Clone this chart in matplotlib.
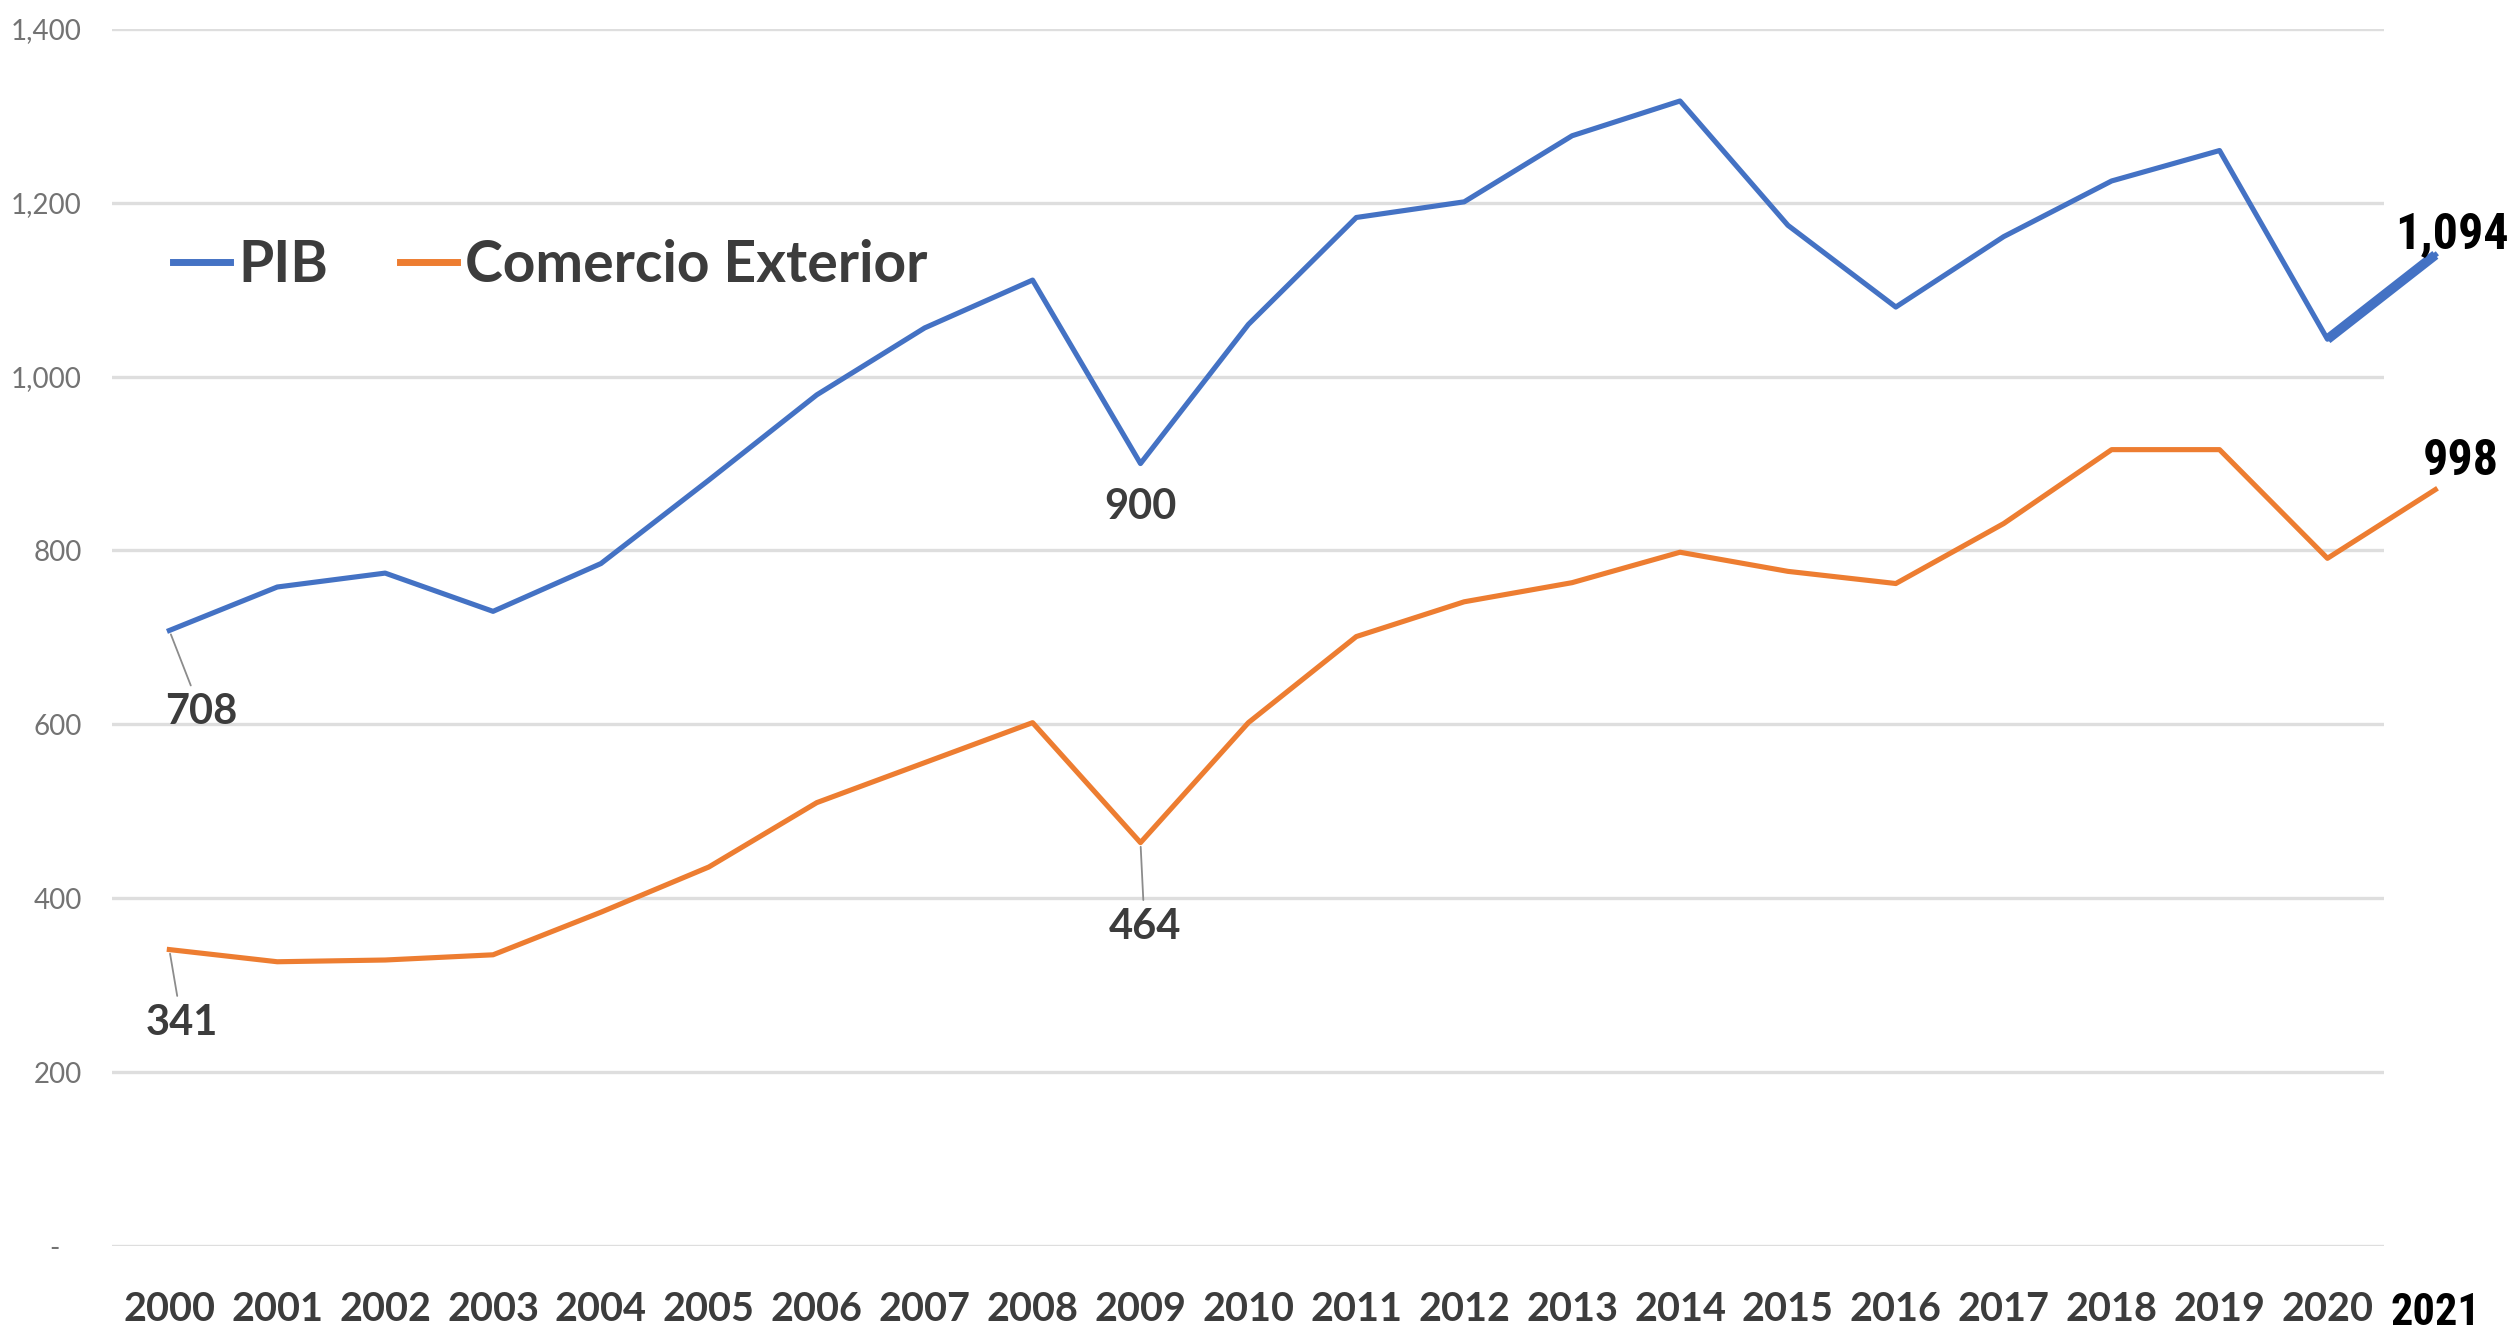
import matplotlib
matplotlib.use("Agg")
import matplotlib.pyplot as plt
from matplotlib import font_manager as fm
from matplotlib.lines import Line2D

# ---------------- data ----------------
years = ["2000", "2001", "2002", "2003", "2004", "2005", "2006", "2007", "2008", "2009", "2010",
         "2011", "2012", "2013", "2014", "2015", "2016", "2017", "2018", "2019", "2020", "2021"]
pib = [708, 758, 774, 730, 785, 881, 979, 1056, 1111, 900, 1060,
       1183, 1201, 1277, 1317, 1174, 1080, 1161, 1225, 1260, 1043, 1140]
comercio = [341, 327, 329, 335, 384, 436, 510, 556, 602, 464, 602,
            701, 741, 763, 798, 776, 762, 831, 916, 916, 791, 870]
yticks = [0, 200, 400, 600, 800, 1000, 1200, 1400]
ytick_labels = ["-   ", "200", "400", "600", "800", "1,000", "1,200", "1,400"]
series_names = ["PIB", "Comercio Exterior"]

pib_labels = {0: "708", 9: "900"}
com_labels = {0: "341", 9: "464"}
end_labels = ["1,094", "998"]

# ---------------- fonts ----------------
names = {f.name for f in fm.fontManager.ttflist}
def pick(cands):
    for c in cands:
        if c in names:
            return c
    return "DejaVu Sans"
main_font = pick(["Lato", "Open Sans", "Noto Sans", "DejaVu Sans"])
narrow_font = pick(["Liberation Sans Narrow", "Roboto Condensed", "Arial Narrow", "Liberation Sans"])

plt.rcParams["font.family"] = [main_font, "DejaVu Sans"]

BLUE = "#4472C4"
ORANGE = "#ED7D31"
DARK = "#3c3c3c"

fig = plt.figure(figsize=(25.09, 13.40), dpi=100)
fig.patch.set_facecolor("white")
ax = fig.add_axes([0.0447, 0.0701, 0.9053, 0.9084])
ax.set_facecolor("none")

x = list(range(len(years)))
n_main = len(years) - 1  # last category drawn outside the grid

ax.set_xlim(-0.53, n_main - 1 + 0.52)
ax.set_ylim(0, 1400)

ax.plot(x, pib, color=BLUE, lw=3.7, clip_on=False, zorder=3)
ax.plot(x[-2:], pib[-2:], color=BLUE, lw=7, clip_on=False, solid_capstyle="butt", zorder=3)
ax.plot(x, comercio, color=ORANGE, lw=3.7, clip_on=False, zorder=3)

# grid
ax.set_yticks(yticks)
ax.set_yticklabels(ytick_labels)
ax.yaxis.grid(True, color="#dedede", lw=2.4)
ax.set_axisbelow(True)
for s in ax.spines.values():
    s.set_visible(False)
ax.tick_params(axis="y", length=0, pad=22, labelsize=20, labelcolor="#737373")

ax.set_xticks(x[:n_main])
ax.set_xticklabels(years[:n_main])
ax.tick_params(axis="x", length=0, pad=32, labelsize=28.5, labelcolor=DARK)
for t in ax.get_xticklabels():
    t.set_fontweight("bold")

# last year label (different style)
ax.annotate(years[-1], xy=(x[-1], 0), xycoords=("data", "data"),
            xytext=(0, -48), textcoords="offset points", ha="center", va="center",
            fontsize=32, fontweight="bold", color="black", family=[narrow_font, "DejaVu Sans"],
            annotation_clip=False)

# data labels
lead = dict(arrowstyle="-", color="#8c8c8c", lw=1.3, shrinkA=4, shrinkB=3)
def lab(series, idx, text, off, arrow):
    ax.annotate(text, xy=(x[idx], series[idx]), xytext=off, textcoords="offset points",
                ha="center", va="center", fontsize=30, fontweight="bold", color=DARK,
                arrowprops=lead if arrow else None, annotation_clip=False, zorder=4)

lab(pib, 0, pib_labels[0], (23, -59), True)
lab(pib, 9, pib_labels[9], (0, -31), False)
lab(comercio, 0, com_labels[0], (9, -53), True)
lab(comercio, 9, com_labels[9], (3, -61), True)

ax.annotate(end_labels[0], xy=(x[-1], pib[-1]), xytext=(12, 14), textcoords="offset points",
            ha="center", va="center", fontsize=36, fontweight="bold", color="black",
            family=[narrow_font, "DejaVu Sans"], annotation_clip=False, zorder=4)
ax.annotate(end_labels[1], xy=(x[-1], comercio[-1]), xytext=(18, 20), textcoords="offset points",
            ha="center", va="center", fontsize=36, fontweight="bold", color="black",
            family=[narrow_font, "DejaVu Sans"], annotation_clip=False, zorder=4)

# legend
handles = [Line2D([], [], color=BLUE, lw=5), Line2D([], [], color=ORANGE, lw=5)]
leg = fig.legend(handles, series_names, loc="center left", bbox_to_anchor=(0.069, 0.802),
                 ncol=2, frameon=False, handlelength=1.0, handletextpad=0.15,
                 columnspacing=1.25, borderpad=0, borderaxespad=0,
                 prop={"weight": "bold", "size": 41})
for t in leg.get_texts():
    t.set_color(DARK)

fig.savefig("out.png", dpi=100, facecolor="white")
